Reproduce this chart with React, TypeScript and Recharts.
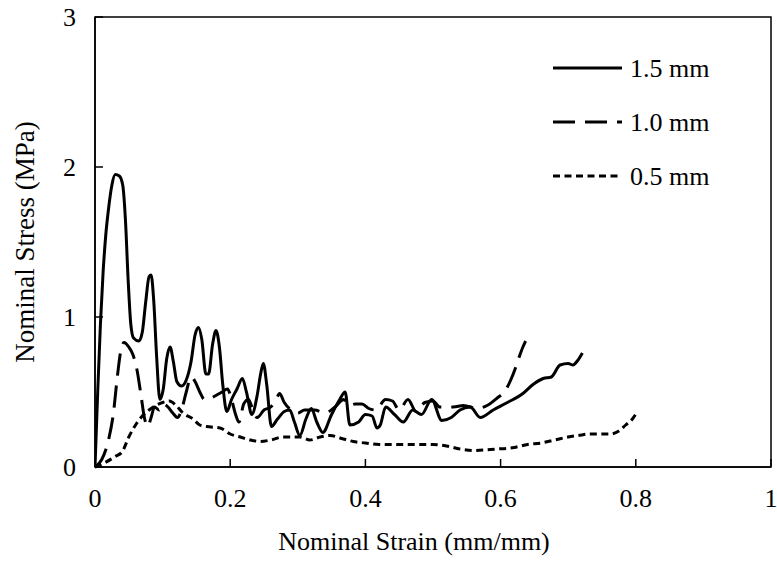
import { Line, LineChart, ReferenceArea, XAxis, YAxis } from "recharts";

// 1.5 mm specimen
const strain15 = [
  0, 0.004, 0.008, 0.012, 0.016, 0.02, 0.025, 0.03, 0.036, 0.041, 0.045, 0.049, 0.053, 0.057, 0.065,
  0.07, 0.075, 0.08, 0.083, 0.087, 0.091, 0.096, 0.101, 0.106, 0.111, 0.116, 0.121, 0.128, 0.135,
  0.142, 0.148, 0.153, 0.158, 0.164, 0.168, 0.174, 0.179, 0.184, 0.189, 0.195, 0.202, 0.21, 0.218,
  0.224, 0.232, 0.24, 0.245, 0.249, 0.254, 0.261, 0.27, 0.28, 0.288, 0.295, 0.303, 0.312, 0.32,
  0.328, 0.337, 0.35, 0.362, 0.37, 0.377, 0.39, 0.4, 0.41, 0.417, 0.422, 0.43, 0.443, 0.456, 0.47,
  0.483, 0.498, 0.513, 0.527, 0.54, 0.555, 0.57, 0.589, 0.61, 0.633, 0.648, 0.663, 0.675, 0.688,
  0.7, 0.707, 0.714, 0.721,
];
const stress15 = [
  0, 0.5, 0.95, 1.3, 1.55, 1.72, 1.88, 1.95, 1.94, 1.88, 1.65, 1.25, 0.95, 0.86, 0.84,
  0.9, 1.1, 1.27, 1.28, 1.1, 0.75, 0.45, 0.52, 0.72, 0.8, 0.7, 0.57, 0.54, 0.58,
  0.7, 0.88, 0.93, 0.85, 0.62, 0.62, 0.82, 0.91, 0.8, 0.55, 0.37, 0.45, 0.52, 0.59,
  0.5, 0.35, 0.48, 0.62, 0.69, 0.55, 0.27, 0.32, 0.37, 0.38, 0.3, 0.21, 0.32, 0.39,
  0.3, 0.23, 0.35, 0.45, 0.5, 0.28, 0.3, 0.35, 0.34, 0.26, 0.28, 0.4, 0.35, 0.3, 0.38,
  0.35, 0.45, 0.31, 0.33, 0.38, 0.4, 0.33, 0.38, 0.43, 0.49, 0.55, 0.59, 0.6, 0.68,
  0.69, 0.68, 0.71, 0.76,
];

// 1.0 mm specimen
const strain10 = [
  0, 0.01, 0.02, 0.027, 0.033, 0.038, 0.043, 0.05, 0.056, 0.062, 0.068, 0.073, 0.078, 0.083, 0.088,
  0.095, 0.1, 0.108, 0.115, 0.122, 0.128, 0.135, 0.142, 0.148, 0.155, 0.162, 0.172, 0.18, 0.188,
  0.196, 0.202, 0.208, 0.213, 0.22, 0.227, 0.232, 0.24, 0.25, 0.26, 0.268, 0.273, 0.28, 0.29, 0.3,
  0.31, 0.325, 0.34, 0.355, 0.368, 0.375, 0.385, 0.395, 0.405, 0.415, 0.43, 0.44, 0.45, 0.463,
  0.475, 0.488, 0.5, 0.51, 0.53, 0.545, 0.565, 0.58, 0.595, 0.607, 0.615, 0.622, 0.628, 0.633, 0.637,
];
const stress10 = [
  0, 0.05, 0.18, 0.35, 0.6, 0.77, 0.83, 0.8, 0.75, 0.65, 0.48, 0.33, 0.27, 0.33, 0.4,
  0.38, 0.42, 0.4, 0.36, 0.33, 0.38, 0.5, 0.6, 0.57, 0.5, 0.45, 0.46, 0.48, 0.5,
  0.52, 0.45, 0.35, 0.3, 0.42, 0.45, 0.4, 0.33, 0.38, 0.4, 0.45, 0.49, 0.43, 0.38, 0.36,
  0.38, 0.38, 0.36, 0.4, 0.45, 0.41, 0.42, 0.42, 0.39, 0.38, 0.45, 0.44, 0.38, 0.45,
  0.37, 0.43, 0.44, 0.4, 0.4, 0.41, 0.39, 0.41, 0.46, 0.51, 0.58, 0.66, 0.74, 0.8, 0.84,
];

// 0.5 mm specimen
const strain05 = [
  0, 0.015, 0.03, 0.04, 0.05, 0.06, 0.07, 0.08, 0.09, 0.1, 0.11, 0.12, 0.13, 0.145, 0.155, 0.165,
  0.185, 0.2, 0.215, 0.23, 0.245, 0.26, 0.278, 0.303, 0.318, 0.333, 0.348, 0.365, 0.382, 0.4, 0.42,
  0.44, 0.47, 0.5, 0.52, 0.54, 0.56, 0.594, 0.62, 0.64, 0.66, 0.68, 0.7, 0.715, 0.732, 0.75, 0.762,
  0.775, 0.785, 0.795, 0.801,
];
const stress05 = [
  0, 0.03, 0.07, 0.1, 0.2, 0.28, 0.34, 0.38, 0.41, 0.43, 0.44, 0.41, 0.36, 0.32, 0.28, 0.27,
  0.26, 0.22, 0.2, 0.18, 0.17, 0.18, 0.2, 0.2, 0.18, 0.2, 0.21, 0.19, 0.17, 0.16, 0.15,
  0.15, 0.15, 0.15, 0.14, 0.12, 0.11, 0.12, 0.13, 0.15, 0.16, 0.18, 0.2, 0.21, 0.22, 0.22, 0.22,
  0.24, 0.28, 0.32, 0.36,
];

const xTicks = [0, 0.2, 0.4, 0.6, 0.8, 1];
const yTicks = [0, 1, 2, 3];

const toPoints = (xs: number[], ys: number[]) => xs.map((x, i) => ({ x, y: ys[i] }));
const data15 = toPoints(strain15, stress15);
const data10 = toPoints(strain10, stress10);
const data05 = toPoints(strain05, stress05);

const FONT = '"Liberation Serif", "Times New Roman", serif';
const FS = 26;

const series = [
  { name: "1.5 mm", dash: undefined },
  { name: "1.0 mm", dash: "22 10" },
  { name: "0.5 mm", dash: "7 4.5" },
];

const XTick = ({ x, y, payload }: any) => (
  <g>
    <line x1={x} x2={x} y1={y} y2={y - 8} stroke="#000" strokeWidth={1.5} />
    <text x={x} y={y + 40} textAnchor="middle" fontFamily={FONT} fontSize={FS} fill="#000">
      {String(payload.value)}
    </text>
  </g>
);

const YTick = ({ x, y, payload }: any) => (
  <g>
    <line x1={x} x2={x + 8} y1={y} y2={y} stroke="#000" strokeWidth={1.5} />
    <text x={x - 19} y={y + 9} textAnchor="end" fontFamily={FONT} fontSize={FS} fill="#000">
      {String(payload.value)}
    </text>
  </g>
);

const RightTick = ({ x, y }: any) => (
  <line x1={x} x2={x - 8} y1={y} y2={y} stroke="#000" strokeWidth={1.5} />
);

const YLabel = ({ viewBox }: any) => {
  const cy = viewBox.y + viewBox.height / 2;
  return (
    <text
      x={25}
      y={cy}
      transform={`rotate(-90, 25, ${cy})`}
      textAnchor="middle"
      dominantBaseline="central"
      fontFamily={FONT}
      fontSize={27}
      fill="#000"
    >
      Nominal Stress (MPa)
    </text>
  );
};

const XLabel = () => (
  <text x={414} y={550} textAnchor="middle" fontFamily={FONT} fontSize={FS} fill="#000">
    Nominal Strain (mm/mm)
  </text>
);

const LegendBox = () => (
  <svg width={220} height={160}>
    {series.map((s, i) => (
      <g key={s.name}>
        <line
          x1={13}
          x2={82}
          y1={28 + i * 54}
          y2={28 + i * 54}
          stroke="#000"
          strokeWidth={3}
          strokeDasharray={s.dash}
        />
        <text x={90} y={37 + i * 54} fontFamily={FONT} fontSize={FS} fill="#000">
          {s.name}
        </text>
      </g>
    ))}
  </svg>
);

export default function App() {
  return (
    <div style={{ position: "absolute", left: 0, top: 0, width: 777, height: 563, background: "#fff" }}>
      <LineChart width={777} height={563} margin={{ top: 17, right: 0, bottom: 0, left: 0 }}>
        <XAxis
          dataKey="x"
          type="number"
          domain={[0, 1]}
          ticks={xTicks}
          allowDataOverflow
          height={96}
          tickSize={0}
          tickMargin={0}
          tick={<XTick />}
          axisLine={{ stroke: "#000", strokeWidth: 1.5 }}
          label={<XLabel />}
        />
        <YAxis
          domain={[0, 3]}
          ticks={yTicks}
          width={95}
          tickSize={0}
          tickMargin={0}
          tick={<YTick />}
          axisLine={{ stroke: "#000", strokeWidth: 1.5 }}
          label={<YLabel />}
        />
        <YAxis
          yAxisId="right"
          orientation="right"
          domain={[0, 3]}
          ticks={yTicks}
          width={6}
          tickSize={0}
          tickMargin={0}
          tick={<RightTick />}
          axisLine={false}
        />
        <ReferenceArea x1={0} x2={1} y1={0} y2={3} fill="none" stroke="#000" strokeWidth={1.5} />
        <Line
          data={data15}
          dataKey="y"
          name="1.5 mm"
          type="monotone"
          stroke="#000"
          strokeWidth={3}
          dot={false}
          isAnimationActive={false}
        />
        <Line
          data={data10}
          dataKey="y"
          name="1.0 mm"
          type="monotone"
          stroke="#000"
          strokeWidth={3}
          strokeDasharray="22 10"
          dot={false}
          isAnimationActive={false}
        />
        <Line
          data={data05}
          dataKey="y"
          name="0.5 mm"
          type="monotone"
          stroke="#000"
          strokeWidth={3}
          strokeDasharray="7 4.5"
          dot={false}
          isAnimationActive={false}
        />
      </LineChart>
      <div style={{ position: "absolute", left: 540, top: 40 }}>
        <LegendBox />
      </div>
    </div>
  );
}
